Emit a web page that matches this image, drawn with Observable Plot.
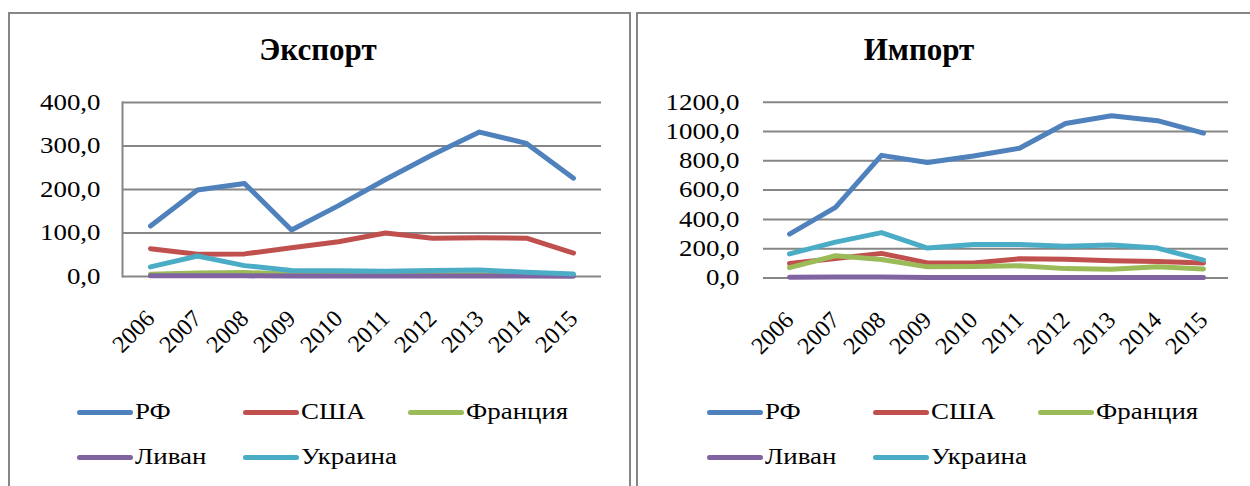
<!DOCTYPE html>
<html><head><meta charset="utf-8">
<script src="https://cdn.jsdelivr.net/npm/d3@7"></script>
<script src="https://cdn.jsdelivr.net/npm/@observablehq/plot@0.6"></script>
<style>
html,body{margin:0;padding:0;background:#fff;width:1250px;height:486px;overflow:hidden;}
body{position:relative;font-family:"Liberation Serif","Times New Roman",serif;color:#000;}
.panel{position:absolute;top:12px;height:520px;border:2px solid #868686;box-sizing:border-box;background:#fff;}
.title{position:absolute;width:400px;text-align:center;font-weight:bold;font-size:31px;line-height:31px;}
.chart{position:absolute;top:80px;}
.leg{position:absolute;font-size:23px;line-height:24px;white-space:nowrap;transform:scaleX(1.17);transform-origin:0 50%;}
.sw{position:absolute;height:5px;width:56px;border-radius:2.5px;}
</style>
</head><body>
<div class="panel" style="left:8px;width:623px;"></div>
<div class="panel" style="left:636px;width:700px;"></div>
<script>
const years = ["2006","2007","2008","2009","2010","2011","2012","2013","2014","2015"];
const seriesNames = ["РФ","США","Франция","Ливан","Украина"];
const seriesColors = ["#4F81BD","#C0504D","#9BBB59","#8064A2","#4BACC6"];

// Экспорт
const exportRF      = [116, 199, 214, 107, 163, 223, 280, 332, 306, 226];
const exportUSA     = [64, 51, 52, 66, 80, 100, 88, 89, 88, 54];
const exportFrance  = [5, 8, 9, 6, 5, 5, 4, 4, 3, 3];
const exportLebanon = [1.5, 1.5, 1.5, 1.2, 1.2, 1.2, 1.0, 1.0, 1.0, 0.8];
const exportUkraine = [22, 47, 25, 14, 13, 12, 14, 15, 10, 6];
const exportTicks   = [0, 100, 200, 300, 400];

// Импорт
const importRF      = [300, 482, 837, 789, 833, 886, 1055, 1108, 1074, 989];
const importUSA     = [99, 133, 168, 103, 103, 131, 128, 117, 112, 103];
const importFrance  = [71, 152, 126, 76, 78, 83, 64, 60, 76, 62];
const importLebanon = [5, 6, 6, 4, 4, 4, 4, 3, 3, 3];
const importUkraine = [165, 245, 310, 204, 229, 229, 216, 225, 204, 122];
const importTicks   = [0, 200, 400, 600, 800, 1000, 1200];

const fmt = d => d.toFixed(1).replace(".", ",");

function buildRows(series) {
  const rows = [];
  series.forEach((vals, i) => vals.forEach((v, j) => rows.push({name: seriesNames[i], year: years[j], value: v})));
  return rows;
}

function makePlot(series, ticks, o) {
  const marks = [
    Plot.ruleY(ticks, {stroke: "#868686", strokeWidth: 2}),
  ];
  if (o.leftLine) marks.push(Plot.frame({anchor: "left", stroke: "#868686", strokeWidth: 2}));
  marks.push(
    Plot.axisY(ticks, {tickSize: 0, tickPadding: o.yPad, tickFormat: fmt, fontSize: 23, fill: "#000"}),
    Plot.axisX({tickSize: 0, tickRotate: -45, tickPadding: o.xPad, fontSize: 24, fill: "#000"}),
    Plot.line(buildRows(series), {x: "year", y: "value", stroke: "name", z: "name",
      strokeWidth: 5, strokeLinecap: "round", strokeLinejoin: "round"})
  );
  return Plot.plot({
    width: o.width, height: 300,
    marginLeft: o.mL, marginRight: o.mR, marginTop: o.mT, marginBottom: o.mB,
    style: {fontFamily: "'Liberation Serif', 'Times New Roman', serif", color: "#000", background: "transparent", overflow: "visible"},
    x: {type: "point", domain: years, padding: 0.5, label: null},
    y: {domain: [0, ticks[ticks.length - 1]], label: null},
    color: {domain: seriesNames, range: seriesColors},
    marks
  });
}

function addChart(svg, left) {
  const d = document.createElement("div");
  d.className = "chart";
  d.style.left = left + "px";
  d.appendChild(svg);
  document.body.appendChild(d);
  // widen the y tick labels slightly, as in the reference
  svg.querySelectorAll('g[aria-label="y-axis tick label"] text').forEach(t => {
    const w = t.getComputedTextLength();
    t.setAttribute("textLength", (w * 1.17).toFixed(1));
    t.setAttribute("lengthAdjust", "spacingAndGlyphs");
  });
}

function addTitle(text, cx) {
  const t = document.createElement("div");
  t.className = "title";
  t.textContent = text;
  t.style.left = (cx - 200) + "px";
  t.style.top = "34px";
  document.body.appendChild(t);
}

function addLegend(offset) {
  const cols = [77, 243, 408];
  const pos = [[0, 412], [1, 412], [2, 412], [0, 457], [1, 457]];
  seriesNames.forEach((n, i) => {
    const [c, cy] = pos[i];
    const x = cols[c] + offset;
    const sw = document.createElement("div");
    sw.className = "sw";
    sw.style.left = x + "px";
    sw.style.top = (cy - 2.5) + "px";
    sw.style.background = seriesColors[i];
    document.body.appendChild(sw);
    const tx = document.createElement("div");
    tx.className = "leg";
    tx.textContent = n;
    tx.style.left = (x + 58) + "px";
    tx.style.top = (cy - 12) + "px";
    document.body.appendChild(tx);
  });
}

addTitle("Экспорт", 318);
addChart(makePlot([exportRF, exportUSA, exportFrance, exportLebanon, exportUkraine], exportTicks,
  {width: 621, mL: 112, mR: 30, mT: 22, mB: 104, yPad: 22, xPad: 38, leftLine: true}), 10);

addTitle("Импорт", 919);
addChart(makePlot([importRF, importUSA, importFrance, importLebanon, importUkraine], importTicks,
  {width: 612, mL: 125, mR: 22, mT: 21.7, mB: 102.5, yPad: 24, xPad: 38, leftLine: false}), 638);

addLegend(0);
addLegend(630);
</script>
</body></html>
